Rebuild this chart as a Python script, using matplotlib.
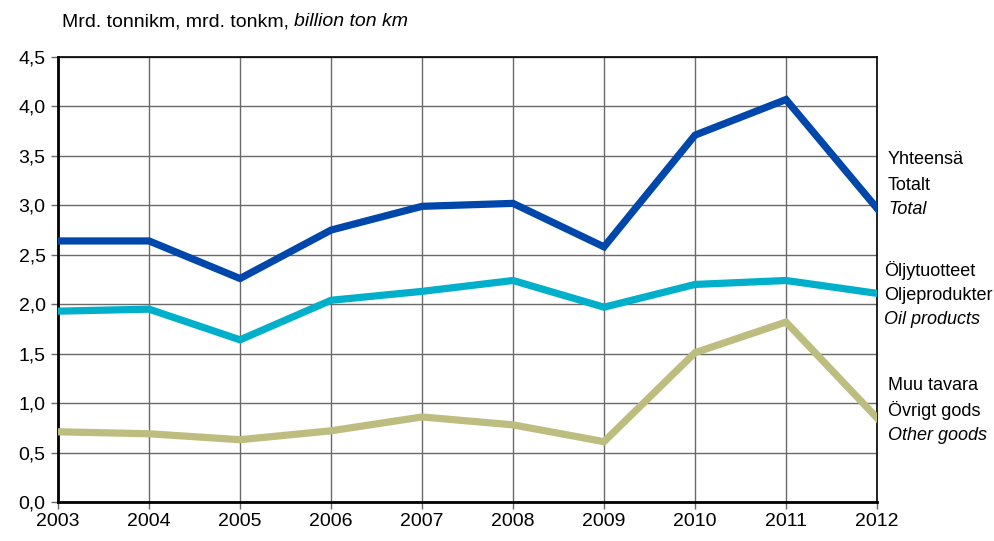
import matplotlib
matplotlib.use("Agg")
import matplotlib.pyplot as plt

plt.rcParams['font.family'] = ['Liberation Sans Narrow', 'Liberation Sans', 'DejaVu Sans']

years = [2003, 2004, 2005, 2006, 2007, 2008, 2009, 2010, 2011, 2012]
total = [2.64, 2.64, 2.26, 2.75, 2.99, 3.02, 2.58, 3.71, 4.07, 2.97]
oil = [1.93, 1.95, 1.64, 2.04, 2.13, 2.24, 1.97, 2.20, 2.24, 2.11]
other = [0.71, 0.69, 0.63, 0.72, 0.86, 0.78, 0.61, 1.51, 1.82, 0.85]

series_labels = [
    ("Yhteensä", "Totalt", "Total"),
    ("Öljytuotteet", "Oljeprodukter", "Oil products"),
    ("Muu tavara", "Övrigt gods", "Other goods"),
]
colors = ["#0047AB", "#00B0CA", "#BDBD80"]
yticks = [0.0, 0.5, 1.0, 1.5, 2.0, 2.5, 3.0, 3.5, 4.0, 4.5]

fig = plt.figure(figsize=(9.94, 5.41), dpi=100)
ax = fig.add_axes([0.0584, 0.0721, 0.8239, 0.8225])

# grid
for y in yticks:
    ax.axhline(y, color="#6a6a6a", lw=1.0, zorder=1)
for x in years:
    ax.axvline(x, color="#6a6a6a", lw=1.0, zorder=1)

for vals, c in zip([total, oil, other], colors):
    ax.plot(years, vals, color=c, lw=5.2, solid_joinstyle="miter", zorder=3)

ax.set_xlim(years[0], years[-1])
ax.set_ylim(0, 4.5)
ax.set_xticks(years)
ax.set_xticklabels([str(y) for y in years], fontsize=14)
ax.set_yticks(yticks)
ax.set_yticklabels([f"{v:.1f}".replace(".", ",") for v in yticks], fontsize=14)
ax.tick_params(axis="both", direction="out", length=5, width=1, color="#6a6a6a")
ax.tick_params(axis="y", pad=4)
ax.tick_params(axis="x", pad=3)
for s in ax.spines.values():
    s.set_color("black")
    s.set_linewidth(1.2)
ax.spines["left"].set_linewidth(2)
ax.spines["bottom"].set_linewidth(2)

# series labels at the right
label_y = [(160, 185, 209), (271, 296, 320), (386, 410, 435)]
label_x = [888, 884, 888]
for lbls, ys, lx in zip(series_labels, label_y, label_x):
    for i, (t, py) in enumerate(zip(lbls, ys)):
        fig.text(lx / 994, 1 - py / 541, t, fontsize=13, va="center", ha="left",
                 style="italic" if i == 2 else "normal")

# title with italic part
t1 = fig.text(62 / 994, 1 - 22 / 541, "Mrd. tonnikm, mrd. tonkm, ", fontsize=14,
              va="center", ha="left")
fig.canvas.draw()
bb = t1.get_window_extent(renderer=fig.canvas.get_renderer())
fig.text(bb.x1 / fig.bbox.width, 1 - 22 / 541, "billion ton km", fontsize=14,
         va="center", ha="left", style="italic")

fig.savefig("out.png", dpi=100)
